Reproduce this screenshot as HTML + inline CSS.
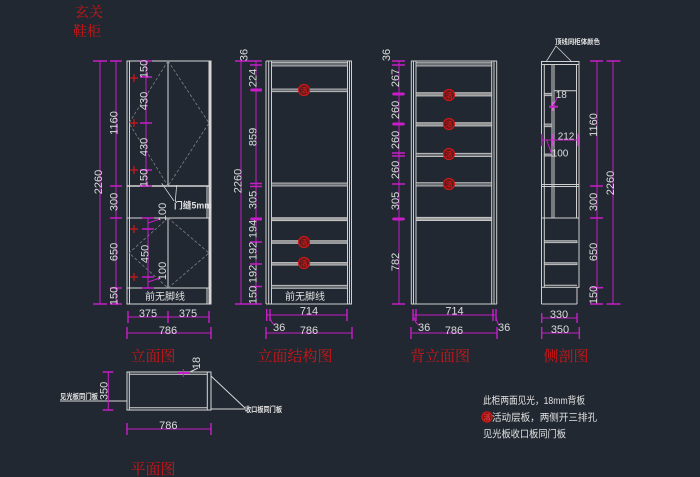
<!DOCTYPE html>
<html><head><meta charset="utf-8">
<style>
html,body{margin:0;padding:0;background:#212831;}
svg{display:block;}
.n{font-family:"Liberation Sans",sans-serif;font-size:11px;fill:#dcdcdc;}
.s{font-family:"Liberation Sans",sans-serif;font-size:10px;fill:#dcdcdc;}
.t{font-family:"Liberation Serif","Noto Serif CJK SC",serif;font-size:15px;fill:#d41414;}
.c{font-family:"Liberation Sans","Noto Sans CJK SC",sans-serif;fill:#e2e2e2;}
.m{font-family:"Liberation Sans","Noto Sans CJK SC",sans-serif;fill:#d01818;font-size:7px;font-weight:bold;}
</style></head><body>
<svg width="700" height="477" viewBox="0 0 700 477" xmlns="http://www.w3.org/2000/svg">
<rect width="700" height="477" fill="#212831"/>

<!-- Titles -->
<text class="t" x="75" y="17" style="font-size:14px">玄关</text>
<text class="t" x="73" y="36" style="font-size:14px">鞋柜</text>
<text class="t" x="153" y="361" text-anchor="middle">立面图</text>
<text class="t" x="295" y="361" text-anchor="middle">立面结构图</text>
<text class="t" x="440" y="361" text-anchor="middle">背立面图</text>
<text class="t" x="566" y="361" text-anchor="middle">侧剖图</text>
<text class="t" x="153" y="474" text-anchor="middle">平面图</text>

<!-- ============ 立面图 ============ -->
<g stroke="#d6d6d6" stroke-width="1" fill="none">
  <rect x="127" y="61" width="84" height="243"/>
  <line x1="129.5" y1="61" x2="129.5" y2="304"/>
  <line x1="209.5" y1="61" x2="209.5" y2="304" stroke-width="2"/>
  <line x1="168" y1="61" x2="168" y2="186"/>
  <line x1="168" y1="218" x2="168" y2="288"/>
  <line x1="127" y1="186" x2="211" y2="186" stroke-width="1.5"/>
  <line x1="127" y1="218" x2="211" y2="218"/>
  <line x1="127" y1="288" x2="211" y2="288"/>
  <line x1="207" y1="186" x2="207" y2="218"/>
  <line x1="207" y1="288" x2="207" y2="304"/>
</g>
<g stroke="#7d8288" stroke-width="0.8" fill="none" stroke-dasharray="3,2">
  <polyline points="168,61 129,123 168,186"/>
  <polyline points="168,61 209,123 168,186"/>
  <polyline points="168,218 129,253 168,288"/>
  <polyline points="168,218 209,253 168,288"/>
</g>
<g stroke="#d01818" stroke-width="1.2">
  <path d="M130 78h8M134 74v8 M130 123h8M134 119v8 M130 170h8M134 166v8 M130 229h8M134 225v8 M130 277h8M134 273v8"/>
</g>
<g stroke="#d6d6d6" stroke-width="0.8" fill="none">
  <path d="M161.7 183.3 L174 201 M176.7 185 L175.3 201"/>
</g>
<text class="c" x="174" y="208.5" style="font-size:9px;font-weight:bold" textLength="38" lengthAdjust="spacingAndGlyphs">门缝5mm</text>
<text class="c" x="165" y="300" text-anchor="middle" style="font-size:10px">前无脚线</text>

<g stroke="#c81ec8" stroke-width="1" fill="none">
  <line x1="100" y1="61" x2="100" y2="304"/>
  <line x1="116" y1="61" x2="116" y2="304"/>
  <line x1="146" y1="61" x2="146" y2="186"/>
  <line x1="148" y1="218" x2="148" y2="288"/>
  <path stroke-width="1.6" d="M93 61h14 M93 304h14 M110 61h12 M110 186h12 M110 218h12 M110 288h12 M110 304h12 M140 61h12 M140 77h12 M140 123h12 M140 170h12 M140 186h12 M142 218h12 M142 229h12 M142 277h12 M142 288h12"/>
  <path d="M148 223 L160 219 M148 282 L160 278"/>
  <path d="M128 317H209 M127 333H211"/>
  <path stroke-width="1.4" d="M128 311v12 M168 311v12 M209 311v12 M127 327v12 M211 327v12"/>
</g>
<g class="n">
  <text transform="translate(102,182) rotate(-90)" text-anchor="middle">2260</text>
  <text transform="translate(117.5,123) rotate(-90)" text-anchor="middle">1160</text>
  <text transform="translate(117.5,202) rotate(-90)" text-anchor="middle">300</text>
  <text transform="translate(117.5,252) rotate(-90)" text-anchor="middle">650</text>
  <text transform="translate(117.5,296) rotate(-90)" text-anchor="middle">150</text>
  <text transform="translate(147.5,69) rotate(-90)" text-anchor="middle">150</text>
  <text transform="translate(147.5,101) rotate(-90)" text-anchor="middle">430</text>
  <text transform="translate(147.5,147) rotate(-90)" text-anchor="middle">430</text>
  <text transform="translate(147.5,178) rotate(-90)" text-anchor="middle">150</text>
  <text transform="translate(148.5,254) rotate(-90)" text-anchor="middle">450</text>
  <text transform="translate(166,212) rotate(-90)" text-anchor="middle">100</text>
  <text transform="translate(166,271) rotate(-90)" text-anchor="middle">100</text>
  <text x="148" y="317" text-anchor="middle">375</text>
  <text x="188" y="317" text-anchor="middle">375</text>
  <text x="168" y="334" text-anchor="middle">786</text>
</g>

<!-- ============ 立面结构图 ============ -->
<g stroke="#cfcfcf" stroke-width="1" fill="none">
  <line x1="266" y1="61" x2="266" y2="304"/>
  <line x1="268.7" y1="61" x2="268.7" y2="304"/>
  <line x1="271.5" y1="61" x2="271.5" y2="304"/>
  <line x1="347.5" y1="61" x2="347.5" y2="304"/>
  <line x1="349.5" y1="61" x2="349.5" y2="304"/>
  <line x1="351.5" y1="61" x2="351.5" y2="304"/>
  <line x1="266" y1="61" x2="352" y2="61"/>
  <line x1="266" y1="304" x2="352" y2="304"/>
</g>
<g stroke="#cfcfcf" stroke-width="0.8" fill="#6a6e73">
  <rect x="271.5" y="62.5" width="76" height="3.5"/>
  <rect x="271.5" y="89" width="76" height="2.7"/>
  <rect x="271.5" y="183" width="76" height="3"/>
  <rect x="271.5" y="217.7" width="76" height="3" fill="#a0a0a0"/>
  <rect x="271.5" y="240.7" width="76" height="2.6" fill="#909090"/>
  <rect x="271.5" y="262.5" width="76" height="2.6" fill="#909090"/>
  <rect x="271.5" y="285.3" width="76" height="3"/>
</g>
<text class="c" x="305" y="300" text-anchor="middle" style="font-size:10px">前无脚线</text>
<g stroke="#d01818" stroke-width="1.2" fill="#5a1a1e">
  <circle cx="304" cy="90" r="5.5"/>
  <circle cx="304" cy="242" r="5.5"/>
  <circle cx="304" cy="263" r="5.5"/>
</g>
<text class="m" x="304" y="92.5" text-anchor="middle">活</text>
<text class="m" x="304" y="244.5" text-anchor="middle">活</text>
<text class="m" x="304" y="265.5" text-anchor="middle">活</text>

<g stroke="#c81ec8" stroke-width="1" fill="none">
  <line x1="241" y1="61" x2="241" y2="304"/>
  <line x1="256" y1="61" x2="256" y2="304"/>
  <path stroke-width="1.6" d="M235 61h27 M235 304h27 M250 65h12 M250 90h12 M250 183.5h12 M250 186.5h12 M250 219h12 M250 242h12 M250 264h12 M250 286.5h12"/>
  <path stroke-width="3" d="M251 90h11 M251 219h11"/>
  <path d="M266 315H347 M266 333H352"/>
  <path stroke-width="1.4" d="M266.7 309v12 M270 309v12 M347 309v12 M266 327v12 M352 327v12"/>
  <path d="M270 317 Q271 323 275 325"/>
</g>
<g class="n">
  <text transform="translate(247.5,55) rotate(-90)" text-anchor="middle">36</text>
  <text transform="translate(241.5,181) rotate(-90)" text-anchor="middle">2260</text>
  <text transform="translate(256.5,78) rotate(-90)" text-anchor="middle">224</text>
  <text transform="translate(256.5,137) rotate(-90)" text-anchor="middle">859</text>
  <text transform="translate(256.5,200) rotate(-90)" text-anchor="middle">305</text>
  <text transform="translate(256.5,229) rotate(-90)" text-anchor="middle">194</text>
  <text transform="translate(256.5,251) rotate(-90)" text-anchor="middle">192</text>
  <text transform="translate(256.5,274) rotate(-90)" text-anchor="middle">192</text>
  <text transform="translate(256.5,295) rotate(-90)" text-anchor="middle">150</text>
  <text x="309" y="314.5" text-anchor="middle">714</text>
  <text x="309" y="334" text-anchor="middle">786</text>
  <text x="273" y="331">36</text>
</g>

<!-- ============ 背立面图 ============ -->
<g stroke="#cfcfcf" stroke-width="1" fill="none">
  <line x1="411.3" y1="61" x2="411.3" y2="304"/>
  <line x1="413.5" y1="61" x2="413.5" y2="304"/>
  <line x1="416" y1="61" x2="416" y2="304"/>
  <line x1="491.7" y1="61" x2="491.7" y2="304"/>
  <line x1="494" y1="61" x2="494" y2="304"/>
  <line x1="496.7" y1="61" x2="496.7" y2="304"/>
  <line x1="411" y1="61" x2="497" y2="61"/>
  <line x1="411" y1="304" x2="497" y2="304"/>
</g>
<g stroke="#cfcfcf" stroke-width="0.8" fill="#6a6e73">
  <rect x="416" y="62.7" width="75.7" height="3.3"/>
  <rect x="416" y="92.7" width="75.7" height="3.3" fill="#909090"/>
  <rect x="416" y="122.7" width="75.7" height="3.3" fill="#909090"/>
  <rect x="416" y="153.3" width="75.7" height="3.3"/>
  <rect x="416" y="182.7" width="75.7" height="3.3"/>
  <rect x="416" y="217.3" width="75.7" height="3.3" fill="#a0a0a0"/>
</g>
<g stroke="#d01818" stroke-width="1.2" fill="#5a1a1e">
  <circle cx="449" cy="95" r="5.5"/>
  <circle cx="449" cy="124" r="5.5"/>
  <circle cx="449" cy="154" r="5.5"/>
  <circle cx="449" cy="184" r="5.5"/>
</g>
<text class="m" x="449" y="97.5" text-anchor="middle">活</text>
<text class="m" x="449" y="126.5" text-anchor="middle">活</text>
<text class="m" x="449" y="156.5" text-anchor="middle">活</text>
<text class="m" x="449" y="186.5" text-anchor="middle">活</text>

<g stroke="#c81ec8" stroke-width="1" fill="none">
  <line x1="399" y1="61" x2="399" y2="304"/>
  <path stroke-width="1.6" d="M392 61h13 M392 65h13 M392 94h13 M392 124h13 M392 153h13 M392 156h13 M392 184h13 M392 219h13 M392 304h13"/>
  <path stroke-width="3" d="M393 94h11 M393 124h11 M393 219h11"/>
  <path d="M413 315H495 M411 333H497"/>
  <path stroke-width="1.4" d="M413 309v12 M416 309v12 M493 309v12 M496 309v12 M411 327v12 M497 327v12"/>
  <path d="M414 317 Q415 323 419 325 M496 317 Q497 323 499 325"/>
</g>
<g class="n">
  <text transform="translate(390,55) rotate(-90)" text-anchor="middle">36</text>
  <text transform="translate(399,78) rotate(-90)" text-anchor="middle">267</text>
  <text transform="translate(399,110) rotate(-90)" text-anchor="middle">260</text>
  <text transform="translate(399,140) rotate(-90)" text-anchor="middle">260</text>
  <text transform="translate(399,170) rotate(-90)" text-anchor="middle">260</text>
  <text transform="translate(399,201) rotate(-90)" text-anchor="middle">305</text>
  <text transform="translate(399,262) rotate(-90)" text-anchor="middle">782</text>
  <text x="454.5" y="314.5" text-anchor="middle">714</text>
  <text x="454" y="334" text-anchor="middle">786</text>
  <text x="418" y="331">36</text>
  <text x="498" y="331">36</text>
</g>

<!-- ============ 侧剖图 ============ -->
<g stroke="#cfcfcf" stroke-width="1" fill="none">
  <rect x="541.5" y="61.5" width="37.5" height="3"/>
  <line x1="541.5" y1="61.5" x2="541.5" y2="304"/>
  <line x1="544.3" y1="64.5" x2="544.3" y2="287.3"/>
  <line x1="552" y1="64.5" x2="552" y2="218"/>
  <line x1="554" y1="64.5" x2="554" y2="218"/>
  <line x1="576.5" y1="64.5" x2="576.5" y2="218"/>
  <line x1="579" y1="61.5" x2="579" y2="218"/>
  <line x1="541.5" y1="184.5" x2="579" y2="184.5"/>
  <line x1="541.5" y1="186.5" x2="579" y2="186.5"/>
  <rect x="541.5" y="218" width="37.5" height="69.3"/>
  <line x1="541.5" y1="304" x2="577" y2="304"/>
  <line x1="577" y1="287.3" x2="577" y2="304"/>
  <line x1="544.3" y1="285.3" x2="577" y2="285.3"/>
  <line x1="554" y1="90.7" x2="576.5" y2="90.7"/>
</g>
<g stroke="#cfcfcf" stroke-width="0.8" fill="#7a7e83">
  <rect x="544.3" y="240.7" width="32.7" height="2"/>
  <rect x="544.3" y="262.7" width="32.7" height="2"/>
  <rect x="544.3" y="93.3" width="7.7" height="2.4"/>
  <rect x="544.3" y="124" width="7.7" height="2.7"/>
  <rect x="544.3" y="154" width="7.7" height="2"/>
</g>
<g stroke="#cfcfcf" stroke-width="0.8" fill="none">
  <path d="M556 46 L546 62 M556 46 L572 62"/>
</g>
<text class="c" x="555" y="44" style="font-size:7px;font-weight:bold" textLength="45" lengthAdjust="spacingAndGlyphs">顶线同柜体颜色</text>
<g stroke="#c81ec8" stroke-width="1" fill="none">
  <path stroke-width="2" d="M549 106.7h9"/>
  <path d="M553 102v9 M553 106.7 L557 98"/>
  <path d="M541.5 140H578"/>
  <path stroke-width="1.4" d="M541.7 134v12 M553 134v12 M578 134v12"/>
  <path d="M546.7 140 L551.7 154"/>
  <line x1="597" y1="61" x2="597" y2="304"/>
  <line x1="613" y1="61" x2="613" y2="304"/>
  <path stroke-width="1.6" d="M590 61h13 M590 186h13 M590 218h13 M590 287.7h13 M590 304h13 M606.5 61h14 M606.5 304h14"/>
  <path d="M541.7 318H577 M541.7 333H579.3"/>
  <path stroke-width="1.4" d="M541.7 313v10 M577 313v10 M541.7 327v12 M579.3 327v12"/>
</g>
<g class="s">
  <text x="555.7" y="98">18</text>
  <text x="557.7" y="139.5">212</text>
  <text x="551.7" y="156.5">100</text>
</g>
<g class="n">
  <text transform="translate(597,125) rotate(-90)" text-anchor="middle">1160</text>
  <text transform="translate(597,202) rotate(-90)" text-anchor="middle">300</text>
  <text transform="translate(597,252) rotate(-90)" text-anchor="middle">650</text>
  <text transform="translate(597,295) rotate(-90)" text-anchor="middle">150</text>
  <text transform="translate(614,183) rotate(-90)" text-anchor="middle">2260</text>
  <text x="559" y="318" text-anchor="middle">330</text>
  <text x="560" y="333" text-anchor="middle">350</text>
</g>

<!-- ============ 平面图 ============ -->
<g stroke="#d6d6d6" stroke-width="1" fill="none">
  <rect x="127" y="372" width="84" height="38"/>
  <line x1="129.3" y1="372" x2="129.3" y2="410"/>
  <line x1="129" y1="374.3" x2="207.3" y2="374.3"/>
  <line x1="129" y1="407.7" x2="207.3" y2="407.7"/>
  <line x1="207.3" y1="372" x2="207.3" y2="410"/>
  <path d="M60 401H127 M211 376 L245 408 M211 409H245 M190 372 L198 368"/>
</g>
<g stroke="#c81ec8" stroke-width="1" fill="none">
  <path stroke-width="2" d="M177.7 373H190"/>
  <path d="M183.3 369v8"/>
  <line x1="108.3" y1="372" x2="108.3" y2="410"/>
  <path stroke-width="1.6" d="M102.7 372h10.6 M102.7 410h10.6"/>
  <path d="M127 429H211"/>
  <path stroke-width="1.4" d="M127 423v12 M211 423v12"/>
</g>
<g class="n">
  <text transform="translate(200,363) rotate(-90)" text-anchor="middle">18</text>
  <text transform="translate(107.5,391) rotate(-90)" text-anchor="middle">350</text>
  <text x="168.3" y="429" text-anchor="middle">786</text>
</g>
<text class="c" x="60" y="399" style="font-size:7.5px;font-weight:bold" textLength="38" lengthAdjust="spacingAndGlyphs">见光板同门板</text>
<text class="c" x="245" y="412" style="font-size:7.5px;font-weight:bold" textLength="37" lengthAdjust="spacingAndGlyphs">收口板同门板</text>

<!-- ============ Notes ============ -->
<text class="c" x="483" y="404" style="font-size:10px" textLength="102" lengthAdjust="spacingAndGlyphs">此柜两面见光，18mm背板</text>
<circle cx="487" cy="417" r="5" fill="#8a1010" stroke="#d01818" stroke-width="1.2"/>
<text class="m" x="487" y="419.5" text-anchor="middle" style="fill:#e04040">活</text>
<text class="c" x="492" y="421" style="font-size:10px" textLength="105" lengthAdjust="spacingAndGlyphs">活动层板，两侧开三排孔</text>
<text class="c" x="483" y="437.5" style="font-size:10px" textLength="83" lengthAdjust="spacingAndGlyphs">见光板收口板同门板</text>
</svg>
</body></html>
